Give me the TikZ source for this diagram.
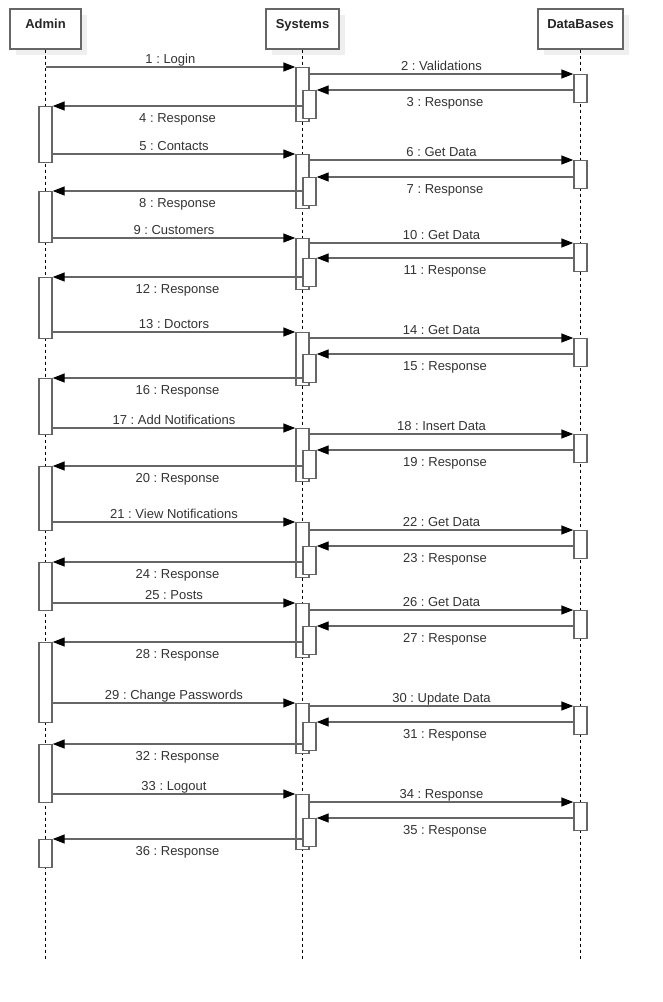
\documentclass[tikz,border=0pt]{standalone}
\usepackage{fontspec}
\setmainfont{Liberation Sans}
\usetikzlibrary{arrows.meta,shadows}
\definecolor{ln}{HTML}{666666}
\definecolor{tx}{HTML}{333333}
\definecolor{shd}{HTML}{EFEFEF}
\frenchspacing
\newcommand{\sysgrp}[4]{%
  \node[actbox,minimum height={#4+31-#2}] (s#1) at (302.5,#2) {};
  \node[actbox,minimum height=28] (d#1) at (580.5,#3) {};
  \node[actbox,minimum height=28] (n#1) at (309.5,#4) {};}
\newcommand{\innermsgs}[4]{%
  \draw[msg] (s#1.east |- d#1.north) -- (d#1.north west) node[midway,lup]{#2};
  \draw[msg] (d#1.west |- n#1.north) -- (n#1.north east) node[midway,ldn]{#3};
  \draw[msg] (n#1.west |- a#1.north) -- (a#1.north east) node[midway,ldn]{#4};}
\newcommand{\adminact}[3]{%
  \node[actbox,minimum height={#3-#2}] (a#1) at (45.5,#2) {};}
\begin{document}
\begin{tikzpicture}[x=1pt,y=-1pt,
  font=\fontsize{13}{15}\selectfont,
  head/.style={draw=ln, line width=1.4pt, fill=white, minimum width=#1,
    minimum height=40pt, inner xsep=0pt, inner ysep=5pt, text height=14pt,
    text depth=16pt, font=\fontsize{13}{15}\selectfont\bfseries, text=black!85,
    general shadow={fill=shd, shadow xshift=6pt, shadow yshift=-6pt}},
  actbox/.style={draw=ln, line width=1.4pt, fill=white, minimum width=13pt,
    inner sep=0pt, anchor=north},
  msg/.style={draw=ln, line width=1.4pt, -{Triangle[length=12pt,width=9pt,black]}},
  lup/.style={anchor=base, yshift=4pt, text=tx, inner sep=0pt},
  ldn/.style={anchor=base, yshift=-16pt, text=tx, inner sep=0pt},
  lifeline/.style={draw=black, line width=0.8pt, dash pattern=on 3pt off 3pt}]
\useasboundingbox[fill=white] (0,0) rectangle (663,1002);

% heads
\node[head=71pt] (admin) at (45.5,29) {Admin};
\node[head=73pt] (sys) at (302.5,29) {Systems};
\node[head=85pt] (db) at (580.5,29) {DataBases};

% lifelines
\coordinate (lend) at (0,959);
\draw[lifeline] (admin.south) -- (admin |- lend);
\draw[lifeline] (sys.south) -- (sys |- lend);
\draw[lifeline] (db.south) -- (db |- lend);

% admin activations
\adminact{1}{106}{161.5}
\adminact{2}{191}{241.5}
\adminact{3}{277}{337.5}
\adminact{4}{378}{434}
\adminact{5}{466}{529.5}
\adminact{6}{562}{610}
\adminact{7}{642}{721.5}
\adminact{8}{744}{801.5}
\adminact{9}{839}{867}

% system / database activations
\sysgrp{1}{67}{74}{90}
\sysgrp{2}{154}{160}{177}
\sysgrp{3}{238}{243}{258}
\sysgrp{4}{332}{338}{354}
\sysgrp{5}{428}{434}{450}
\sysgrp{6}{522}{530}{546}
\sysgrp{7}{603}{610}{626}
\sysgrp{8}{703}{706}{722}
\sysgrp{9}{794}{802}{818}

% requests from Admin
\draw[msg] (admin |- s1.north) -- (s1.north west) node[midway,lup]{1 : Login};
\draw[msg] (a1.east |- s2.north) -- (s2.north west) node[midway,lup]{5 : Contacts};
\draw[msg] (a2.east |- s3.north) -- (s3.north west) node[midway,lup]{9 : Customers};
\draw[msg] (a3.east |- s4.north) -- (s4.north west) node[midway,lup]{13 : Doctors};
\draw[msg] (a4.east |- s5.north) -- (s5.north west) node[midway,lup]{17 : Add Notifications};
\draw[msg] (a5.east |- s6.north) -- (s6.north west) node[midway,lup]{21 : View Notifications};
\draw[msg] (a6.east |- s7.north) -- (s7.north west) node[midway,lup]{25 : Posts};
\draw[msg] (a7.east |- s8.north) -- (s8.north west) node[midway,lup]{29 : Change Passwords};
\draw[msg] (a8.east |- s9.north) -- (s9.north west) node[midway,lup]{33 : Logout};

% inner messages
\innermsgs{1}{2 : Validations}{3 : Response}{4 : Response}
\innermsgs{2}{6 : Get Data}{7 : Response}{8 : Response}
\innermsgs{3}{10 : Get Data}{11 : Response}{12 : Response}
\innermsgs{4}{14 : Get Data}{15 : Response}{16 : Response}
\innermsgs{5}{18 : Insert Data}{19 : Response}{20 : Response}
\innermsgs{6}{22 : Get Data}{23 : Response}{24 : Response}
\innermsgs{7}{26 : Get Data}{27 : Response}{28 : Response}
\innermsgs{8}{30 : Update Data}{31 : Response}{32 : Response}
\innermsgs{9}{34 : Response}{35 : Response}{36 : Response}
\end{tikzpicture}
\end{document}
